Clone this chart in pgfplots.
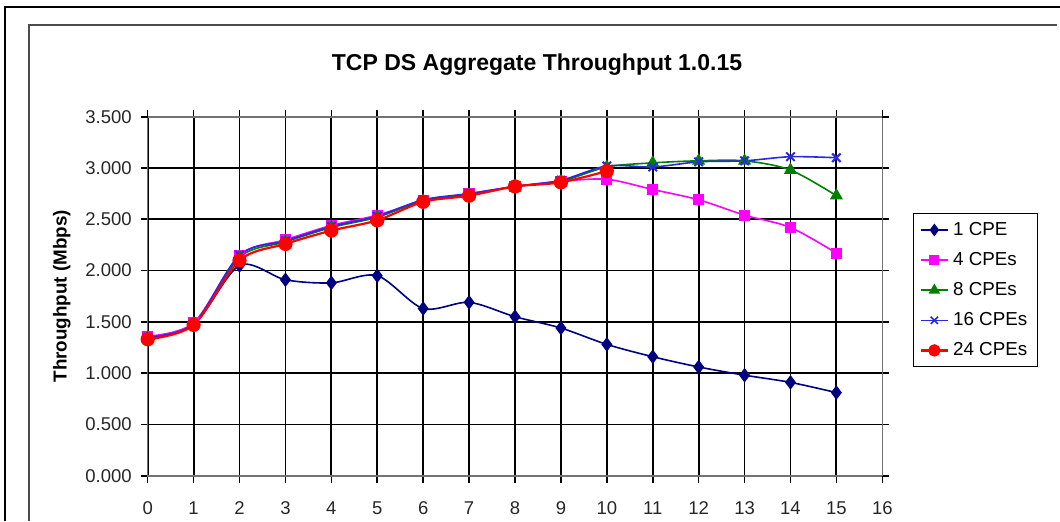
\documentclass[border=0pt]{standalone}
\usepackage{fontspec}
\setmainfont{Liberation Sans}
\usepackage{pgfplots}
\pgfplotsset{compat=1.18}

\definecolor{cpeone}{RGB}{0,0,128}
\definecolor{cpefour}{RGB}{255,0,255}
\definecolor{cpeeight}{RGB}{0,128,0}
\definecolor{cpesixteen}{RGB}{40,40,235}
\definecolor{cpetwentyfour}{RGB}{255,0,0}

\begin{document}
\begin{tikzpicture}
% page = 1060x521 px at 0.5pt per px, origin at the axis' lower left corner
\path[use as bounding box] (-73.85pt,-22.65pt) rectangle (456.15pt,237.85pt);
\draw[black, line width=1pt] (-71.35pt,-22.65pt) -- (-71.35pt,234.35pt) -- (456.15pt,234.35pt);
\draw[black!70, line width=1pt] (-59.1pt,-22.65pt) -- (-59.1pt,225.35pt) -- (454.65pt,225.35pt);

\begin{axis}[
    scale only axis,
    width=367.3pt, height=179.5pt,
    xmin=0, xmax=16, ymin=0, ymax=3.5,
    xtick={0,...,15},
    extra x ticks={16},
    extra x tick style={xmajorgrids=false},
    ytick={0,0.5,1,1.5,2,2.5,3},
    extra y ticks={3.5},
    extra y tick style={ymajorgrids=false},
    xmajorgrids, ymajorgrids,
    grid style={black, line width=0.9pt},
    axis line style={black!55, line width=0.8pt},
    tick align=outside,
    major tick length=3.5pt,
    tick style={black, line width=0.8pt},
    tick label style={font=\fontsize{9.25}{11}\selectfont, black!85},
    /pgf/number format/assume math mode=true,
    xticklabel style={yshift=-6pt},
    yticklabel style={xshift=-1pt},
    y tick label style={/pgf/number format/fixed,
        /pgf/number format/fixed zerofill, /pgf/number format/precision=3},
    title={TCP DS Aggregate Throughput 1.0.15},
    title style={at={(axis description cs:0.53,1.113)}, anchor=center,
        font=\fontsize{11.5}{13}\selectfont\bfseries},
    ylabel={Throughput (Mbps)},
    every axis y label/.style={at={(axis description cs:-0.117,0.5)},
        rotate=90, anchor=center, font=\fontsize{9.4}{11}\selectfont\bfseries},
    legend style={at={(1.0418,0.731)}, anchor=north west, draw=black,
        line width=0.6pt, font=\fontsize{9.4}{11}\selectfont,
        row sep=3pt, inner xsep=3pt, inner ysep=2pt},
    legend cell align=left,
    legend image code/.code={
        \draw[mark repeat=2, mark phase=2, mark options={scale=0.85}]
            plot coordinates {(0cm,0cm) (0.24cm,0cm) (0.48cm,0cm)};},
    clip=false,
]
\addplot[cpeone, line width=0.8pt, smooth, tension=0.5,
    mark=diamond*, mark size=3pt, mark options={solid}] coordinates {
    (0,1.34) (1,1.47) (2,2.05) (3,1.91) (4,1.88) (5,1.95) (6,1.63) (7,1.69)
    (8,1.55) (9,1.44) (10,1.28) (11,1.16) (12,1.06) (13,0.98) (14,0.91) (15,0.81)};
\addlegendentry{1 CPE}

\addplot[cpefour, line width=0.8pt, smooth, tension=0.5,
    mark=square*, mark size=2.4pt] coordinates {
    (0,1.36) (1,1.49) (2,2.15) (3,2.30) (4,2.44) (5,2.54) (6,2.68) (7,2.75)
    (8,2.82) (9,2.87) (10,2.89) (11,2.79) (12,2.69) (13,2.54) (14,2.42) (15,2.17)};
\addlegendentry{4 CPEs}

\addplot[cpeeight, line width=0.8pt, smooth, tension=0.5,
    mark=triangle*, mark size=3pt] coordinates {
    (0,1.34) (1,1.48) (2,2.13) (3,2.28) (4,2.42) (5,2.52) (6,2.68) (7,2.74)
    (8,2.82) (9,2.87) (10,3.01) (11,3.05) (12,3.07) (13,3.07) (14,2.98) (15,2.73)};
\addlegendentry{8 CPEs}

\addplot[cpesixteen, line width=0.8pt, smooth, tension=0.5,
    mark=x, mark size=3pt, mark options={line width=1pt}] coordinates {
    (0,1.35) (1,1.48) (2,2.15) (3,2.29) (4,2.43) (5,2.53) (6,2.69) (7,2.75)
    (8,2.82) (9,2.88) (10,3.02) (11,3.01) (12,3.06) (13,3.07) (14,3.11) (15,3.10)};
\addlegendentry{16 CPEs}

\addplot[cpetwentyfour, line width=1.1pt, smooth, tension=0.5,
    mark=*, mark size=3pt] coordinates {
    (0,1.33) (1,1.47) (2,2.10) (3,2.26) (4,2.39) (5,2.49) (6,2.67) (7,2.73)
    (8,2.82) (9,2.86) (10,2.97)};
\addlegendentry{24 CPEs}
\end{axis}
\end{tikzpicture}
\end{document}
